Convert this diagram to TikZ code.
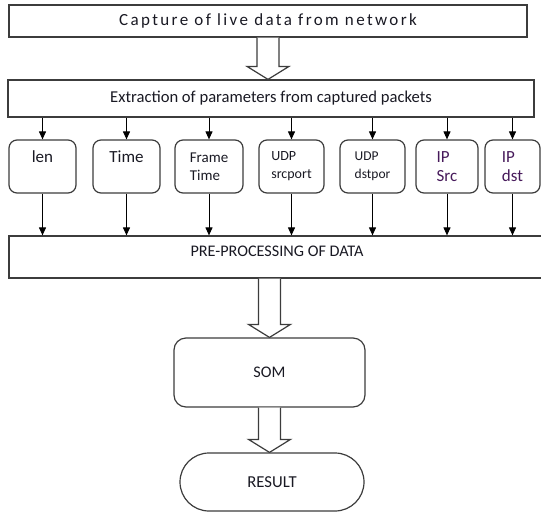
\documentclass[tikz,border=0pt]{standalone}
\usepackage{fontspec}
\setmainfont{Carlito}
\usetikzlibrary{arrows.meta,calc}

\definecolor{boxgray}{RGB}{60,60,60}
\definecolor{textdark}{RGB}{25,25,35}
\definecolor{ippurple}{RGB}{70,25,90}

% big hollow arrow: #1 = start, #2 = tip
\newcommand{\fatarrow}[2]{%
  \draw[fatarr] ($(#1)+(-11,0)$) -- ($(#2)+(-11,-13)$) -- ($(#2)+(-21,-13)$)
    -- (#2) -- ($(#2)+(21,-13)$) -- ($(#2)+(11,-13)$) -- ($(#1)+(11,0)$);}

\begin{document}
\begin{tikzpicture}[x=1pt,y=-1pt
	,>={Triangle[length=8pt,width=7pt]}
	,semithick]
  \tikzstyle{every node}=[inner sep=0pt,text=textdark]
  \tikzstyle{box}=[draw=boxgray,line width=1.2pt,rectangle]
  \tikzstyle{param}=[box,rounded corners=8pt,minimum height=53pt,align=left]
  \tikzstyle{feed}=[->,line width=1pt]
  \tikzstyle{fatarr}=[draw=boxgray,line width=1.2pt,fill=white]

  \clip (0,0) rectangle (541,512);

  % top two stages
  \node[box,minimum width=518pt,minimum height=32pt
    ,font=\fontsize{17}{20}\selectfont\addfontfeature{LetterSpace=14}] (capture) at (268,21)
    {Capture of live data from network};
  \node[box,minimum width=526pt,minimum height=37pt
    ,font=\fontsize{16.6}{20}\selectfont] (extract) at (271,98.5)
    {Extraction of parameters from captured packets};

  % parameter boxes
  \node[param,minimum width=67pt,font=\fontsize{17}{20.5}\selectfont] (len) at (42.5,166.5)
    {len\\\mbox{}};
  \node[param,minimum width=67pt,font=\fontsize{17}{20.5}\selectfont] (time) at (126.5,166.5)
    {Time\\\mbox{}};
  \node[param,minimum width=68pt,font=\fontsize{15}{17.5}\selectfont] (frame) at (209,166.5)
    {Frame\\Time};
  \node[param,minimum width=65pt,font=\fontsize{14}{18}\selectfont] (udpsrc) at (291.5,166.5)
    {UDP\\srcport};
  \node[param,minimum width=65pt,font=\fontsize{13.5}{18}\selectfont] (udpdst) at (372.5,166.5)
    {UDP\\dstpor};
  \node[param,minimum width=62pt,text=ippurple,font=\fontsize{17}{19.5}\selectfont] (ipsrc) at (447,166.5)
    {IP\\Src};
  \node[param,minimum width=55pt,text=ippurple,font=\fontsize{17}{19.5}\selectfont] (ipdst) at (512.5,166.5)
    {IP\\dst};

  % lower stages
  \node[box,minimum width=536pt,minimum height=42pt] (prep) at (277,257) {};
  \node[font=\fontsize{16.2}{20}\selectfont] (preptxt) at ([yshift=5.5pt]prep.center)
    {PRE-PROCESSING OF DATA};
  \node[box,rounded corners=12pt,minimum width=191pt,minimum height=69pt
    ,font=\fontsize{16.2}{20}\selectfont] (som) at (269.5,372.5) {SOM};
  \node[box,rounded corners=29pt,minimum width=184pt,minimum height=58pt
    ,font=\fontsize{16.7}{20}\selectfont] (result) at (272,482) {RESULT};

  % arrows in and out of every parameter box
  \foreach \p in {len,time,frame,udpsrc,udpdst,ipsrc,ipdst} {
    \draw[feed] (extract.south -| \p.north) -- (\p.north);
    \draw[feed] (\p.south) -- (\p.south |- prep.north);
  }

  % hollow arrows between stages
  \coordinate (tip1) at (capture.south |- extract.north);
  \coordinate (tip2) at (som.north);
  \coordinate (tail2) at (prep.south -| som.north);
  \coordinate (tip3) at (som.south |- result.north);
  \fatarrow{capture.south}{tip1}
  \fatarrow{tail2}{tip2}
  \fatarrow{som.south}{tip3}
\end{tikzpicture}
\end{document}
